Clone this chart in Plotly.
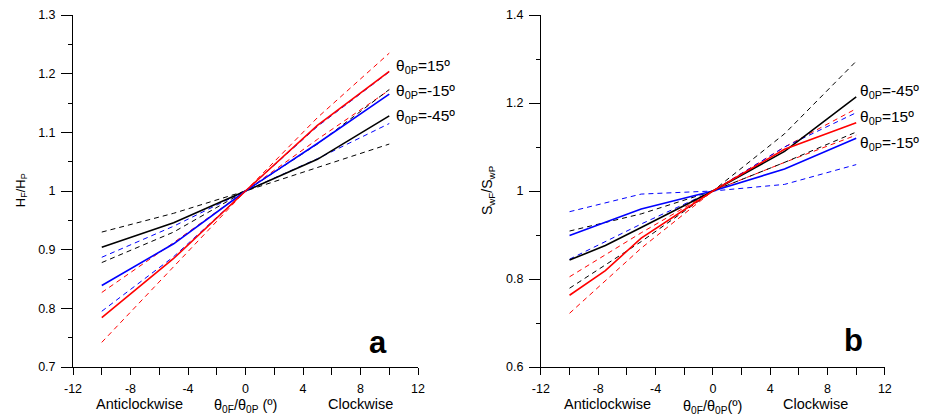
import plotly.graph_objects as go
from plotly.subplots import make_subplots

# angle difference between floor and plane (degrees)
x_pts = [-10, -5, 0, 5, 10]
x_fine = [-10, -7.5, -5, 0, 5, 10]

# panel a : H_F / H_P
a_red = [0.784, 0.885, 1.0, 1.112, 1.204]
a_red_d1 = [0.742, 0.871, 1.0, 1.125, 1.235]
a_red_d2 = [0.827, 0.912, 1.0, 1.088, 1.172]
a_blue = [0.839, 0.910, 1.0, 1.081, 1.165]
a_blue_d1 = [0.795, 0.888, 1.0, 1.110, 1.203]
a_blue_d2 = [0.887, 0.940, 1.0, 1.055, 1.115]
a_black = [0.904, 0.946, 1.0, 1.054, 1.128]
a_black_d1 = [0.878, 0.930, 1.0, 1.080, 1.173]
a_black_d2 = [0.930, 0.962, 1.0, 1.040, 1.080]

# panel b : S_wF / S_wP
b_black = [0.843, 0.876, 0.917, 1.0, 1.090, 1.214]
b_red = [0.763, 0.819, 0.893, 1.0, 1.095, 1.155]
b_blue = [0.899, 0.959, 1.0, 1.050, 1.120]
b_blue_d1 = [0.953, 0.993, 1.0, 1.015, 1.060]
b_blue_d2 = [0.845, 0.925, 1.0, 1.100, 1.178]
b_black_d1 = [0.909, 0.948, 1.0, 1.065, 1.134]
b_black_d2 = [0.779, 0.885, 1.0, 1.130, 1.295]
b_red_d1 = [0.805, 0.905, 1.0, 1.100, 1.187]
b_red_d2 = [0.722, 0.870, 1.0, 1.065, 1.127]

labels_a = ["θ<sub>0P</sub>=15º", "θ<sub>0P</sub>=-15º", "θ<sub>0P</sub>=-45º"]
labels_b = ["θ<sub>0P</sub>=-45º", "θ<sub>0P</sub>=15º", "θ<sub>0P</sub>=-15º"]

FONT = "Liberation Sans, Arial, sans-serif"
RED, BLUE, BLACK = "#ff0000", "#0000ff", "#000000"

fig = make_subplots(rows=1, cols=2)


def add_line(x, y, color, col, dashed=False):
    fig.add_trace(go.Scatter(
        x=x, y=y, mode="lines",
        line=dict(color=color, width=1 if dashed else 1.6,
                  dash="5px,4px" if dashed else "solid"),
        showlegend=False, hoverinfo="skip"), row=1, col=col)


# panel a
for y, c in [(a_red_d1, RED), (a_red_d2, RED), (a_blue_d1, BLUE), (a_blue_d2, BLUE),
             (a_black_d1, BLACK), (a_black_d2, BLACK)]:
    add_line(x_pts, y, c, 1, dashed=True)
add_line(x_pts, a_black, BLACK, 1)
add_line(x_pts, a_blue, BLUE, 1)
add_line(x_pts, a_red, RED, 1)

# panel b
for y, c in [(b_red_d1, RED), (b_red_d2, RED), (b_blue_d1, BLUE), (b_blue_d2, BLUE),
             (b_black_d1, BLACK), (b_black_d2, BLACK)]:
    add_line(x_pts, y, c, 2, dashed=True)
add_line(x_pts, b_blue, BLUE, 2)
add_line(x_fine, b_black, BLACK, 2)
add_line(x_fine, b_red, RED, 2)

# the page body has an 8px margin, so domains are laid out 8px to the left
xticks = [-12, -8, -4, 0, 4, 8, 12]
xax = dict(range=[-12, 12], tickvals=xticks, ticktext=[str(t) for t in xticks],
           showgrid=False, zeroline=False, showline=True, linecolor="black", linewidth=1,
           ticks="outside", ticklen=7, tickcolor="black", ticklabelstandoff=3,
           minor=dict(tickvals=list(range(-10, 12, 4)), ticks="outside", ticklen=7, tickcolor="black"),
           tickfont=dict(family=FONT, size=12.5, color="black"))
fig.update_xaxes(**xax)
fig.update_xaxes(domain=[57 / 934, 408 / 934], row=1, col=1)
fig.update_xaxes(domain=[533 / 934, 883 / 934], row=1, col=2)

yax = dict(showgrid=False, zeroline=False, showline=True, linecolor="black", linewidth=1,
           ticks="outside", ticklen=11, tickcolor="black", ticklabelstandoff=3,
           tickfont=dict(family=FONT, size=12.5, color="black"))
fig.update_yaxes(**yax)
fig.update_yaxes(range=[0.7, 1.3], dtick=0.1, tick0=0.7,
                 minor=dict(dtick=0.05, ticks="outside", ticklen=4, tickcolor="black"),
                 row=1, col=1)
fig.update_yaxes(range=[0.6, 1.4], dtick=0.2, tick0=0.6,
                 minor=dict(dtick=0.1, ticks="outside", ticklen=4, tickcolor="black"),
                 row=1, col=2)

ann = []


def note(x, y, text, xref, yref, font, xanchor="center", angle=0):
    ann.append(dict(x=x, y=y, xref=xref, yref=yref, text=text, showarrow=False,
                    xanchor=xanchor, yanchor="middle", textangle=angle, font=font))


tf = dict(family=FONT, size=15.5, color="black")
for lab, yv in zip(labels_a, [1.213, 1.170, 1.127]):
    note(10.3, yv, lab, "x", "y", tf, xanchor="left")
for lab, yv in zip(labels_b, [1.227, 1.166, 1.109]):
    note(10.1, yv, lab, "x2", "y2", tf, xanchor="left")
big = dict(family=FONT, size=31, color="black")
note(9.2, 0.741, "<b>a</b>", "x", "y", big)
note(9.8, 0.66, "<b>b</b>", "x2", "y2", big)

sf = dict(family=FONT, size=14.5, color="black")
note(-7.35, -0.105, "Anticlockwise", "x", "paper", sf)
note(8.0, -0.105, "Clockwise", "x", "paper", sf)
note(0, -0.112, "θ<sub>0F</sub>/θ<sub>0P</sub> (º)", "x", "paper", sf)
note(-7.36, -0.106, "Anticlockwise", "x2", "paper", sf)
note(7.14, -0.106, "Clockwise", "x2", "paper", sf)
note(0, -0.115, "θ<sub>0F</sub>/θ<sub>0P</sub>(º)", "x2", "paper", sf)
note(4 / 934, 0.502, "H<sub>F</sub>/H<sub>P</sub>", "paper", "paper",
     dict(family=FONT, size=13, color="black"), angle=-90)
note(480 / 934, 0.502, "S<sub>wF</sub>/S<sub>wP</sub>", "paper", "paper",
     dict(family=FONT, size=14, color="black"), angle=-90)

fig.update_layout(width=934, height=418, margin=dict(l=0, r=0, t=7, b=59),
                  paper_bgcolor="white", plot_bgcolor="white", annotations=ann,
                  font=dict(family=FONT))

fig.write_html("out.html")
